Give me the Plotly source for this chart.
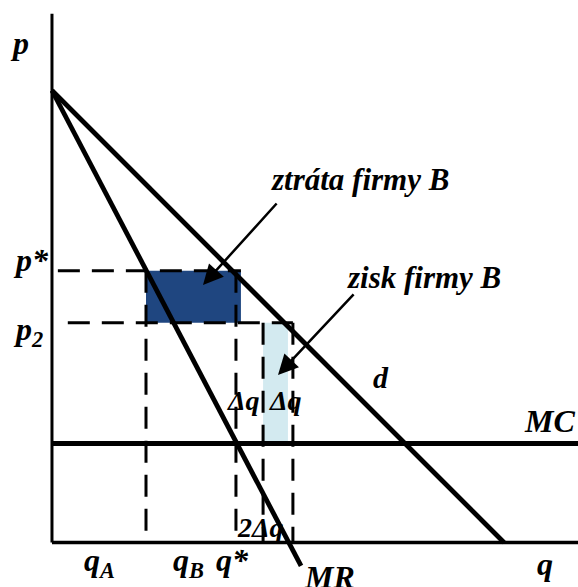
import plotly.graph_objects as go

# Demand and marginal revenue (q, p)
demand_q = [0, 100]
demand_p = [100, 0]
mr_q = [0, 55.1]
mr_p = [100, -5.2]

# Marginal cost level and prices
mc_level = 21.9
p_star = 60.1
p_2 = 48.6

# Quantities
q_B = 20.8
q_star = 40.7
q_left = 46.7
q_right = 53.3

# Loss / profit areas of firm B
loss_q = [20.8, 41.8]
gain_q = [46.7, 52.2]

# Axis extents
q_max = 116.4
p_max = 117.0

FONT = "Liberation Serif, Times New Roman, serif"
DASH = "22px,12px"

fig = go.Figure()


def rect(q0, q1, p0, p1, color):
    fig.add_trace(go.Scatter(
        x=[q0, q1, q1, q0, q0], y=[p0, p0, p1, p1, p0],
        mode="lines", fill="toself", fillcolor=color,
        line=dict(width=0, color=color), hoverinfo="skip", showlegend=False))


def seg(xs, ys, width, dash="solid"):
    fig.add_trace(go.Scatter(
        x=xs, y=ys, mode="lines",
        line=dict(color="black", width=width, dash=dash),
        hoverinfo="skip", showlegend=False))


rect(loss_q[0], loss_q[1], p_2, p_star, "#1F4680")
rect(gain_q[0], gain_q[1], mc_level, p_2, "#D3EAF0")

# Dashed guides
seg([1.3, loss_q[1]], [p_star, p_star], 3, DASH)
seg([3.5, q_right], [p_2, p_2], 3, DASH)
seg([q_B, q_B], [p_star, 0], 3, DASH)
seg([q_star, q_star], [p_star, 0], 3, DASH)
seg([q_left, q_left], [p_2, 0], 3, DASH)
seg([q_right, q_right], [p_2, 0], 3, DASH)

# Axes
seg([0, 0], [p_max, 0], 3)
seg([0, q_max], [0, 0], 3.3)

# Curves
seg([0, q_max], [mc_level, mc_level], 4.8)
seg(demand_q, demand_p, 4.8)
seg(mr_q, mr_p, 4.8)


def label(text, q, p, size=32):
    fig.add_annotation(x=q, y=p, text="<b><i>" + text + "</i></b>",
                       showarrow=False, xanchor="center", yanchor="middle",
                       font=dict(family=FONT, size=size, color="black"))


label("p", -7.2, 110.5)
label("p*", -4.7, 62.4)
label("p<sub>2</sub>", -5.4, 46.6)
label("q<sub>A</sub>", 10.62, -4.4)
label("q<sub>B</sub>", 30.09, -4.4)
label("q*", 40.04, -3.8)
label("MR", 61.5, -7.6)
label("q", 109.07, -4.7)
label("MC", 109.96, 26.8)
label("d", 72.79, 36.4, 30)
label("ztráta firmy B", 68.14, 80.3, 31)
label("zisk firmy B", 82.3, 58.6, 31)
label("Δq", 42.26, 31.4, 28)
label("Δq", 51.77, 31.4, 28)
label("2Δq", 46.02, 3.4, 28)


def arrow(q_tail, p_tail, q_tip, p_tip):
    fig.add_annotation(x=q_tip, y=p_tip, ax=q_tail, ay=p_tail,
                       xref="x", yref="y", axref="x", ayref="y",
                       text="", showarrow=True, arrowhead=2,
                       arrowsize=1.6, arrowwidth=2.5, arrowcolor="black")


arrow(50.0, 75.33, 33.41, 56.97)
arrow(67.04, 55.2, 50.0, 37.06)

fig.update_layout(
    width=578, height=587,
    margin=dict(l=0, r=0, t=0, b=0),
    paper_bgcolor="white", plot_bgcolor="white",
    xaxis=dict(range=[-11.5, 116.37], visible=False, fixedrange=True),
    yaxis=dict(range=[-9.85, 120.02], visible=False, fixedrange=True),
    showlegend=False,
)

fig.write_html("out.html")
